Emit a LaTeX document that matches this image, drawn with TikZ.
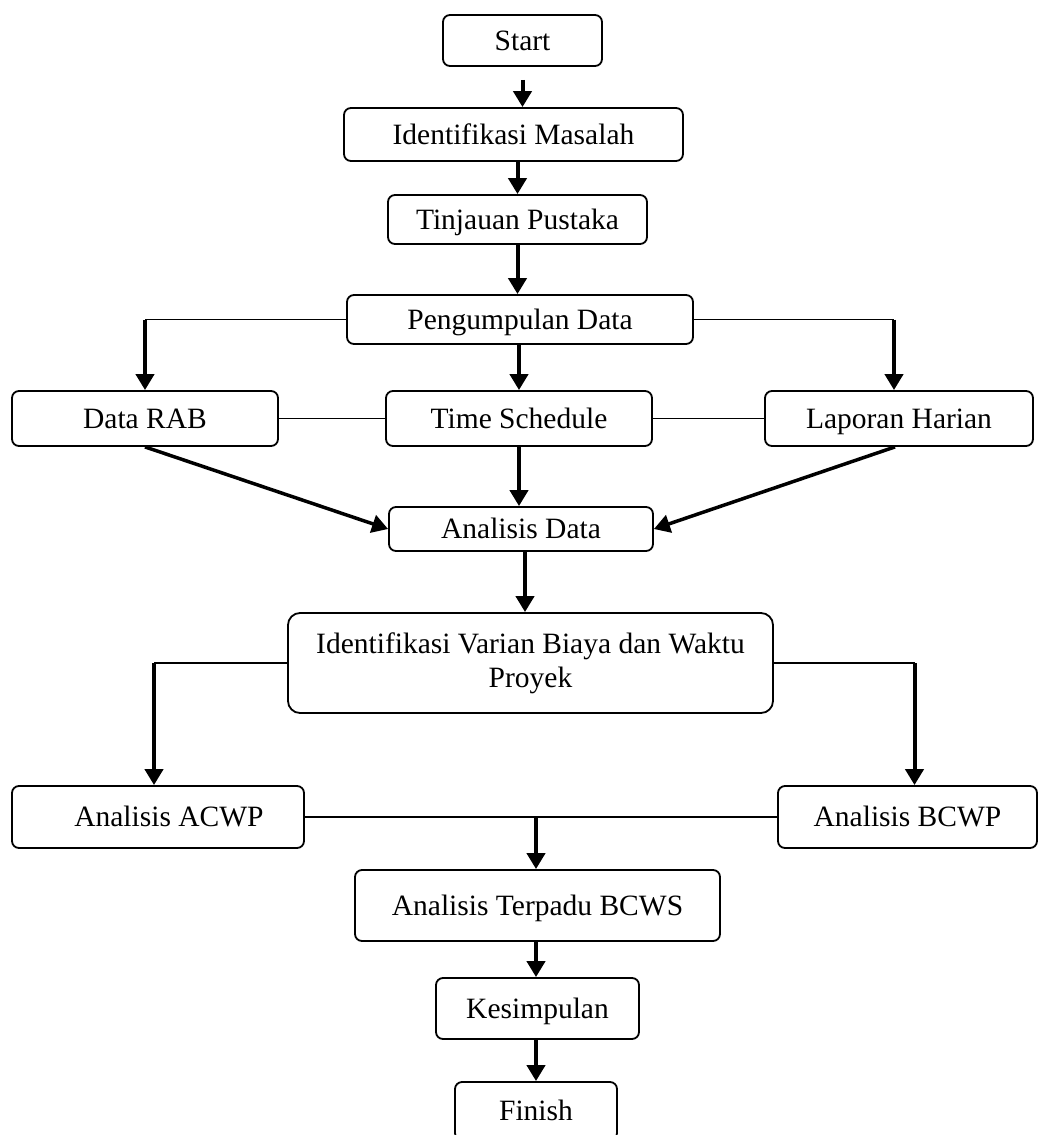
\documentclass[tikz,border=0pt]{standalone}
\usepackage{fontspec}
\setmainfont{Liberation Serif}
\usetikzlibrary{arrows.meta,calc}
\begin{document}
\begin{tikzpicture}[x=1pt,y=-1pt,
  box/.style={draw, line width=1.8pt, rounded corners=7pt, inner sep=0pt,
    font=\fontsize{29.5}{34}\selectfont, align=center},
  onel/.style={text height=19.5pt, text depth=0pt},
  thinline/.style={line width=1.8pt},
  arr/.style={line width=4pt, -{Triangle[length=16pt,width=18pt]}},
]
\useasboundingbox (0,0) rectangle (1038,1135);

\node[box, onel, minimum width=159pt, minimum height=51pt] (start) at (522.5,40.5) {Start};
\node[box, onel, minimum width=339pt, minimum height=53pt] (idm) at (513.5,134.5) {Identifikasi Masalah};
\node[box, onel, minimum width=259pt, minimum height=49pt] (tin) at (517.5,219.5) {Tinjauan Pustaka};
\node[box, onel, minimum width=346pt, minimum height=49pt] (peng) at (520,319.5) {Pengumpulan Data};
\node[box, onel, minimum width=266pt, minimum height=55pt] (rab) at (145,418.5) {Data RAB};
\node[box, onel, minimum width=266pt, minimum height=55pt] (ts) at (519,418.5) {Time Schedule};
\node[box, onel, minimum width=268pt, minimum height=55pt] (lap) at (899,418.5) {Laporan Harian};
\node[box, onel, minimum width=264pt, minimum height=44pt] (ad) at (521,529) {Analisis Data};
\node[box, rounded corners=12pt, minimum width=485pt, minimum height=100pt] (var) at (530.5,663)
  {Identifikasi Varian Biaya dan Waktu\\Proyek};
\node[box, onel, minimum width=292pt, minimum height=62pt] (acwp) at (158,817) {\hspace*{22pt}Analisis ACWP};
\node[box, onel, minimum width=259pt, minimum height=62pt] (bcwp) at (907.5,817) {Analisis BCWP};
\node[box, onel, minimum width=365pt, minimum height=71pt] (bcws) at (537.5,905.5) {Analisis Terpadu BCWS};
\node[box, onel, minimum width=203pt, minimum height=61pt] (kes) at (537.5,1008.5) {Kesimpulan};
\node[box, onel, minimum width=162pt, minimum height=58pt] (fin) at (536,1111) {Finish};

% vertical main arrows
\draw[arr, shorten <=13pt] (start.south) -- (start.south |- idm.north);
\draw[arr] (tin.north |- idm.south) -- (tin.north);
\draw[arr] (tin.south) -- (tin.south |- peng.north);
\draw[arr] (ts.north |- peng.south) -- (ts.north);

% branches from Pengumpulan Data
\coordinate (pl) at (rab.north |- peng.west);
\draw[thinline] (peng.west) -- (pl);
\draw[arr] (pl) -- (rab.north);
\coordinate (lapn) at ([xshift=-5pt]lap.north);
\coordinate (pr) at (lapn |- peng.east);
\draw[thinline] (peng.east) -- (pr);
\draw[arr] (pr) -- (lapn);

% links between data boxes
\draw[thinline] (rab.east) -- (ts.west);
\draw[thinline] (ts.east) -- (lap.west);

% to Analisis Data
\draw[arr, line width=3.5pt] (rab.south) -- (ad.west);
\draw[arr, line width=3.5pt] ([xshift=-4pt]lap.south) -- (ad.east);
\draw[arr] (ts.south) -- (ts.south |- ad.north);
\draw[arr] ([xshift=4pt]ad.south) -- ([xshift=4pt]ad.south |- var.north);

% branches from Identifikasi Varian
\coordinate (acwpn) at ([xshift=-4pt]acwp.north);
\coordinate (vl) at (acwpn |- var.west);
\draw[thinline] (var.west) -- (vl);
\draw[arr] (vl) -- (acwpn);
\coordinate (bcwpn) at ([xshift=7pt]bcwp.north);
\coordinate (vr) at (bcwpn |- var.east);
\draw[thinline] (var.east) -- (vr);
\draw[arr] (vr) -- (bcwpn);

% ACWP - BCWP link and arrow to BCWS
\draw[thinline] (acwp.east) -- (bcwp.west);
\coordinate (bcwsn) at ([xshift=-1.5pt]bcws.north);
\draw[arr] (bcwsn |- acwp.east) -- (bcwsn);

% bottom chain
\draw[arr] ([xshift=-1.5pt]bcws.south) -- ([xshift=-1.5pt]kes.north);
\draw[arr] ([xshift=-1.5pt]kes.south) -- ([xshift=-1.5pt]kes.south |- fin.north);
\end{tikzpicture}
\end{document}
